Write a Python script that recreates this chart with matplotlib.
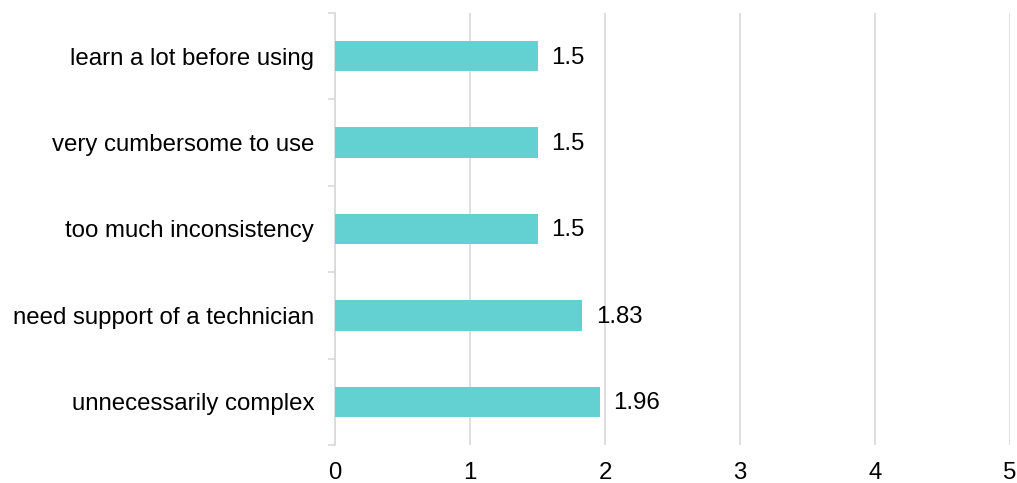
import matplotlib
matplotlib.use("Agg")
import matplotlib.pyplot as plt

plt.rcParams['font.family'] = ['Liberation Sans', 'DejaVu Sans']

categories = [
    "unnecessarily complex",
    "need support of a technician",
    "too much inconsistency",
    "very cumbersome to use",
    "learn a lot before using",
]
values = [1.96, 1.83, 1.5, 1.5, 1.5]
value_labels = ["1.96", "1.83", "1.5", "1.5", "1.5"]
x_ticks = [0, 1, 2, 3, 4, 5]

FS = 17.3

fig = plt.figure(figsize=(10.17, 4.83), dpi=100)
ax = fig.add_axes([335 / 1017, 1 - 445 / 483, 675 / 1017, 432 / 483])

ypos = list(range(len(categories)))
ax.barh(ypos, values, height=0.35, color="#63D1D1", zorder=3)

for y, v, lab in zip(ypos, values, value_labels):
    ax.annotate(lab, xy=(v, y), xytext=(10, -1), textcoords="offset points",
                va="center", ha="left", fontsize=FS, color="#000000")

ax.set_xlim(0, 5)
ax.set_ylim(-0.5, len(categories) - 0.5)
ax.set_xticks(x_ticks)
ax.set_xticklabels([str(t) for t in x_ticks], fontsize=FS)
ax.set_yticks(ypos)
ax.set_yticklabels(categories, fontsize=FS)

# minor ticks on the category axis sit between categories
ax.set_yticks([i - 0.5 for i in range(len(categories) + 1)], minor=True)
ax.tick_params(axis="y", which="major", length=0, pad=15)
ax.tick_params(axis="y", which="minor", length=5, color="#D9D9D9", width=1.2)
ax.tick_params(axis="x", length=0, pad=12)

ax.grid(axis="x", color="#D9D9D9", linewidth=1.2, zorder=0)
for side in ["top", "right", "bottom"]:
    ax.spines[side].set_visible(False)
ax.spines["left"].set_color("#D9D9D9")
ax.spines["left"].set_linewidth(1.2)

fig.savefig("out.png", dpi=100)
